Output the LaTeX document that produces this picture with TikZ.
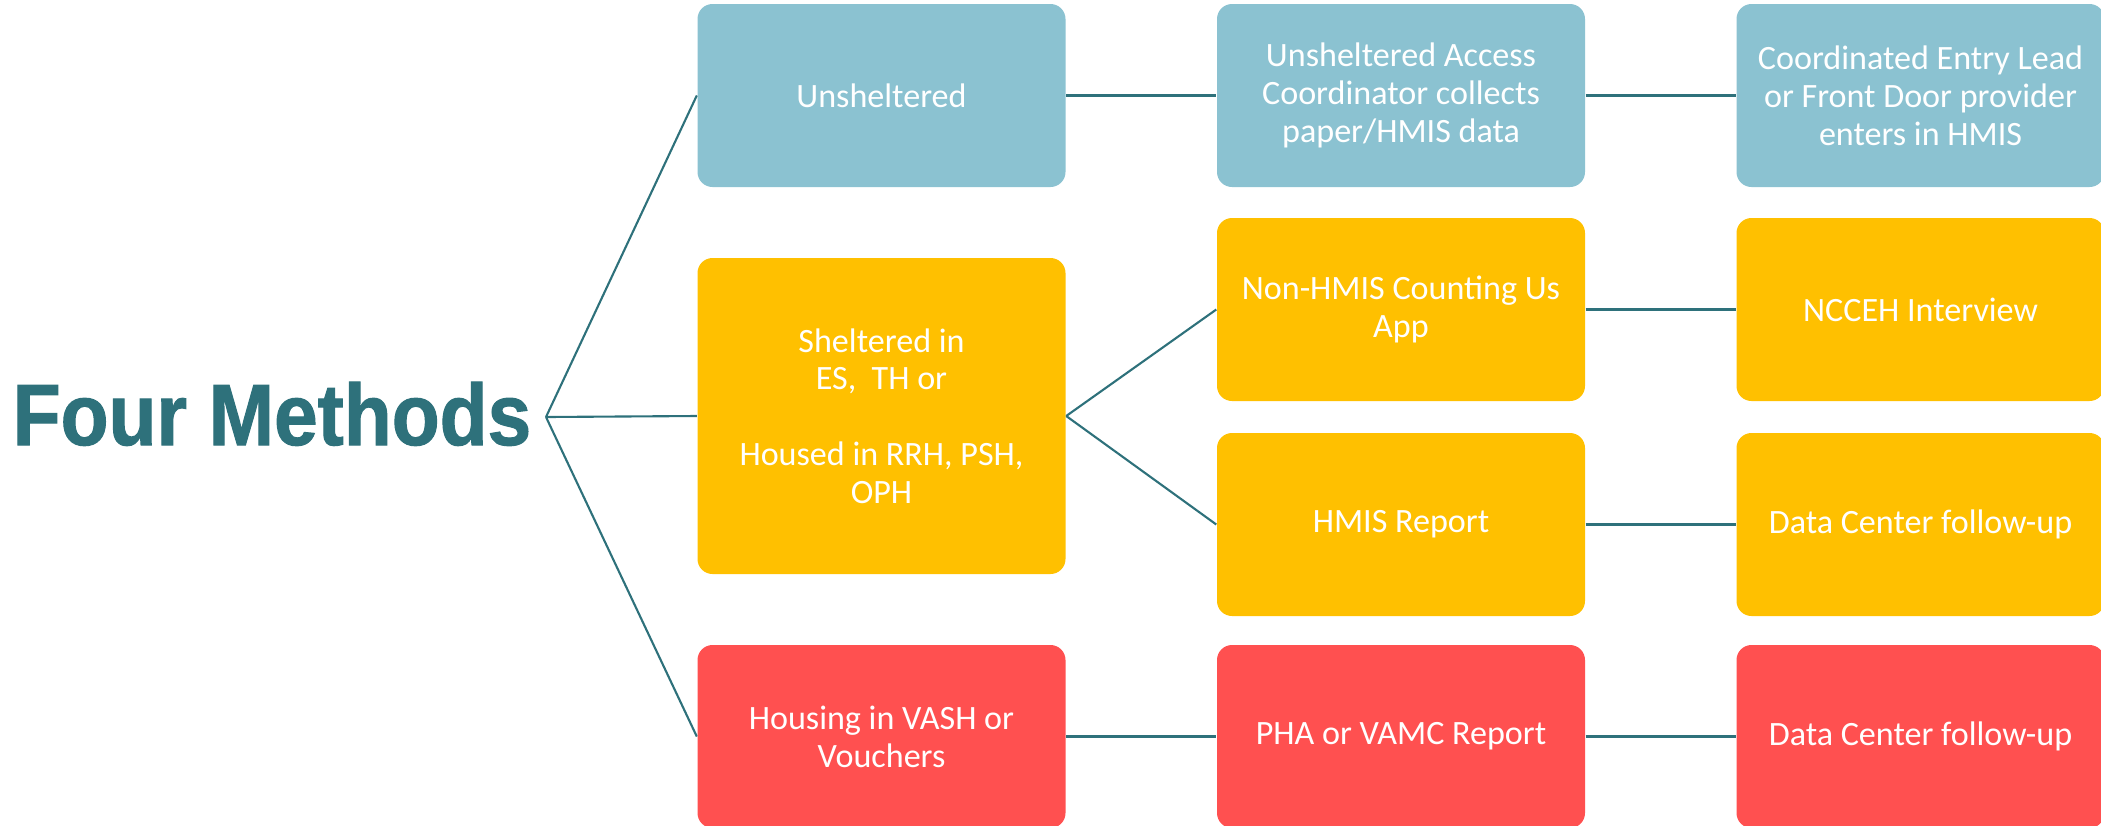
\documentclass[tikz,border=0pt]{standalone}
\usepackage{fontspec}
\setmainfont{Carlito}
\newfontfamily\titlefont{Liberation Sans}[FakeStretch=0.9, FakeBold=1.2]

\definecolor{methodteal}{HTML}{2E717B}
\definecolor{unshblue}{HTML}{8BC2D1}
\definecolor{sheltgold}{HTML}{FFC000}
\definecolor{vashred}{HTML}{FF5050}

\newcommand{\boxwidth}{3.68cm}
\newcommand{\boxheight}{1.83cm}
\newcommand{\bigheight}{3.16cm}
\newcommand{\colone}{8.815}
\newcommand{\coltwo}{14.01}
\newcommand{\colthree}{19.205}
\newcommand{\rowone}{-0.955}
\newcommand{\rowtwo}{-3.095}
\newcommand{\rowthree}{-5.245}
\newcommand{\rowfour}{-7.365}
\newcommand{\rowmid}{-4.16}

\tikzset{
  methodbox/.style={rounded corners=0.15cm, minimum width=\boxwidth,
    minimum height=\boxheight, inner sep=0pt, text=white, align=center,
    font=\fontsize{9.7}{10.75}\selectfont},
  link/.style={draw=methodteal, line width=0.6pt}
}

\begin{document}
\begin{tikzpicture}
  \useasboundingbox (0,0) rectangle (21.01,-8.25);
  \clip (0,0) rectangle (21.01,-8.25);

  \node [anchor=base west, inner sep=0pt, text=methodteal,
    font=\titlefont\bfseries\fontsize{24.8}{28}\selectfont]
    (title) at (0.12,-4.45) {Four Methods};
  \coordinate (hub) at (5.46,-4.17);

  \node [methodbox, fill=unshblue] (unsh) at (\colone,\rowone) {Unsheltered};
  \node [methodbox, fill=unshblue] (access) at (\coltwo,\rowone)
    {Unsheltered Access\\Coordinator collects\\paper/HMIS data};
  \node [methodbox, fill=unshblue] (celead) at (\colthree,\rowone)
    {Coordinated Entry Lead\\or Front Door provider\\enters in HMIS};

  \node [methodbox, fill=sheltgold, minimum height=\bigheight] (shelt) at (\colone,\rowmid)
    {Sheltered in\\ES,~~TH or\\[10.75pt]Housed in RRH, PSH,\\OPH};
  \node [methodbox, fill=sheltgold] (app) at (\coltwo,\rowtwo)
    {Non-HMIS Counting Us\\App};
  \node [methodbox, fill=sheltgold] (ncceh) at (\colthree,\rowtwo) {NCCEH Interview};
  \node [methodbox, fill=sheltgold] (hmisrep) at (\coltwo,\rowthree) {HMIS Report};
  \node [methodbox, fill=sheltgold] (dcone) at (\colthree,\rowthree) {Data Center follow-up};

  \node [methodbox, fill=vashred] (vash) at (\colone,\rowfour)
    {Housing in VASH or\\Vouchers};
  \node [methodbox, fill=vashred] (pha) at (\coltwo,\rowfour) {PHA or VAMC Report};
  \node [methodbox, fill=vashred] (dctwo) at (\colthree,\rowfour) {Data Center follow-up};

  \draw [link] (hub) -- (unsh.west);
  \draw [link] (hub) -- (shelt.west);
  \draw [link] (hub) -- (vash.west);
  \draw [link] (unsh) -- (access);
  \draw [link] (access) -- (celead);
  \draw [link] (shelt.east) -- (app.west);
  \draw [link] (shelt.east) -- (hmisrep.west);
  \draw [link] (app) -- (ncceh);
  \draw [link] (hmisrep) -- (dcone);
  \draw [link] (vash) -- (pha);
  \draw [link] (pha) -- (dctwo);
\end{tikzpicture}
\end{document}
